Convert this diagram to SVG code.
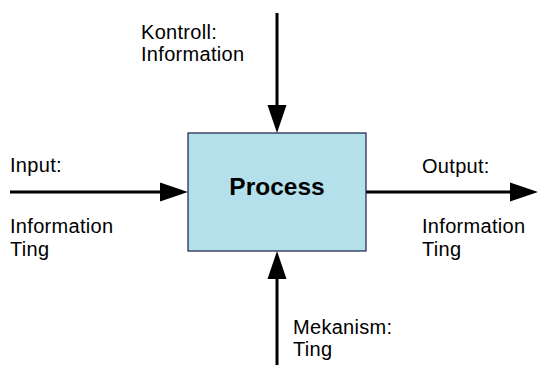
<svg xmlns="http://www.w3.org/2000/svg" width="538" height="365" viewBox="0 0 538 365">
<style>
.t{font-family:"Liberation Sans",Arial,sans-serif;font-size:20px;letter-spacing:0.3px;fill:#000}
.c{stroke:#000;stroke-width:3;fill:none}
.h{fill:#000}
</style>
<rect width="538" height="365" fill="#fff"/>
<g id="connectors">
<line class="c" x1="10" y1="192" x2="162" y2="192"/>
<polygon class="h" points="160,182.5 188,192 160,201.5"/>
<line class="c" x1="366" y1="192" x2="512" y2="192"/>
<polygon class="h" points="510,182.5 538,192 510,201.5"/>
<line class="c" x1="277" y1="13" x2="277" y2="108"/>
<polygon class="h" points="267.5,105 277,133 286.5,105"/>
<line class="c" x1="277" y1="276" x2="277" y2="365"/>
<polygon class="h" points="267.5,279 277,251 286.5,279"/>
</g>
<g id="process">
<rect x="188" y="133" width="178" height="118" fill="#b4e0ec" stroke="#1c1c4a" stroke-width="1.2"/>
<text x="277" y="195" text-anchor="middle" font-family="Liberation Sans,Arial,sans-serif" font-weight="bold" font-size="24.5px">Process</text>
</g>
<g id="input">
<text class="t" x="10" y="172">Input:</text>
<text class="t" x="10" y="233">Information</text>
<text class="t" x="10" y="256">Ting</text>
</g>
<g id="output">
<text class="t" x="422" y="173">Output:</text>
<text class="t" x="422" y="233">Information</text>
<text class="t" x="422" y="256">Ting</text>
</g>
<g id="kontroll">
<text class="t" x="141" y="39">Kontroll:</text>
<text class="t" x="141" y="61">Information</text>
</g>
<g id="mekanism">
<text class="t" x="293" y="334">Mekanism:</text>
<text class="t" x="293" y="356">Ting</text>
</g>
</svg>
